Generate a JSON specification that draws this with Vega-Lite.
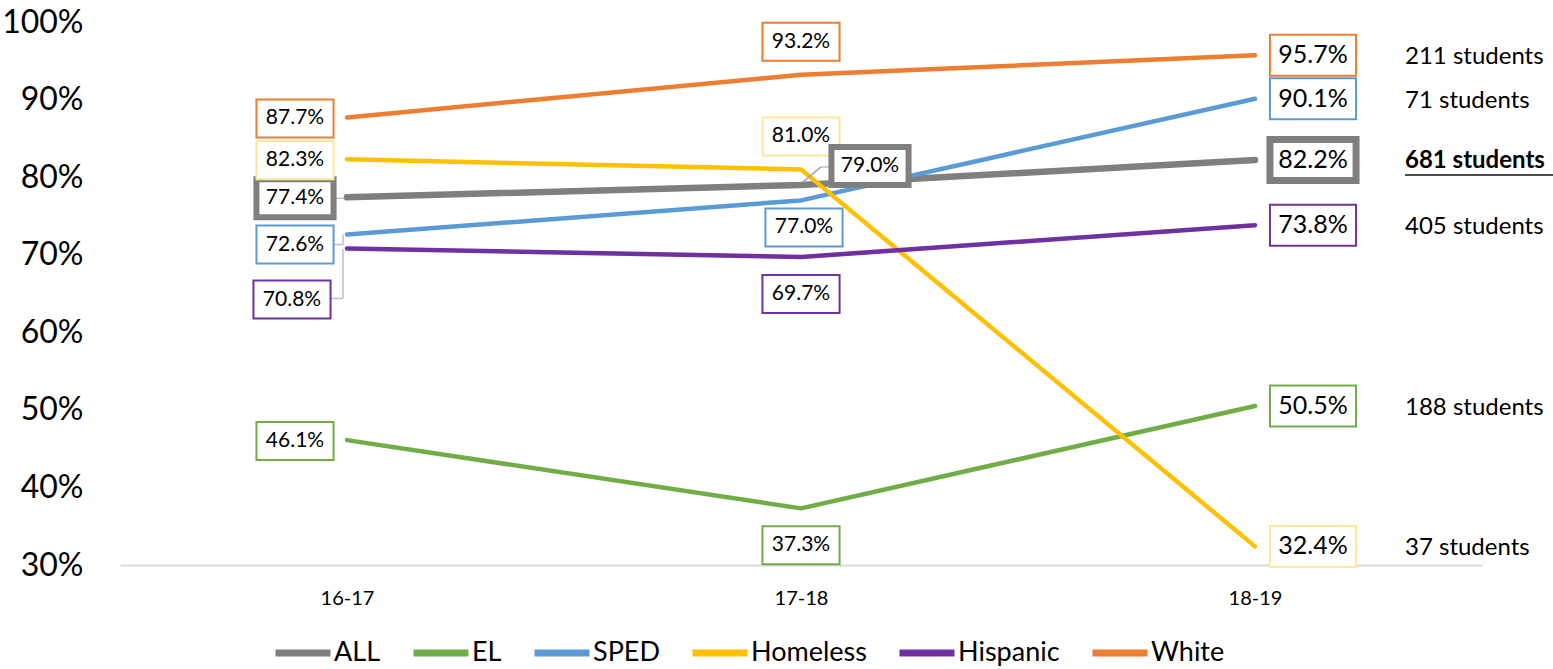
{
  "$schema": "https://vega.github.io/schema/vega-lite/v6.json",
  "width": 1362,
  "height": 543,
  "autosize": {"type": "none"},
  "padding": {"left": 120, "top": 22, "right": 71, "bottom": 104},
  "background": "white",
  "config": {"view": {"stroke": null}, "font": "Lato", "text": {"font": "Lato"}},
  "data": {"values": [
    {"year": "16-17", "series": "ALL", "value": 0.774},
    {"year": "16-17", "series": "EL", "value": 0.461},
    {"year": "16-17", "series": "SPED", "value": 0.726},
    {"year": "16-17", "series": "Homeless", "value": 0.823},
    {"year": "16-17", "series": "Hispanic", "value": 0.708},
    {"year": "16-17", "series": "White", "value": 0.877},
    {"year": "17-18", "series": "ALL", "value": 0.790},
    {"year": "17-18", "series": "EL", "value": 0.373},
    {"year": "17-18", "series": "SPED", "value": 0.770},
    {"year": "17-18", "series": "Homeless", "value": 0.810},
    {"year": "17-18", "series": "Hispanic", "value": 0.697},
    {"year": "17-18", "series": "White", "value": 0.932},
    {"year": "18-19", "series": "ALL", "value": 0.822, "students": "681 students"},
    {"year": "18-19", "series": "EL", "value": 0.505, "students": "188 students"},
    {"year": "18-19", "series": "SPED", "value": 0.901, "students": "71 students"},
    {"year": "18-19", "series": "Homeless", "value": 0.324, "students": "37 students"},
    {"year": "18-19", "series": "Hispanic", "value": 0.738, "students": "405 students"},
    {"year": "18-19", "series": "White", "value": 0.957, "students": "211 students"}
  ]},
  "encoding": {
    "x": {"field": "year", "type": "nominal", "sort": null,
      "scale": {"type": "point", "domain": ["16-17", "17-18", "18-19"], "padding": 0.5},
      "axis": {"title": null, "labelAngle": 0, "labelFontSize": 20, "labelColor": "black", "ticks": false, "domainColor": "#d9d9d9", "domainWidth": 2, "labelPadding": 23, "grid": false}},
    "y": {"field": "value", "type": "quantitative",
      "scale": {"domain": [0.3, 1.0], "nice": false, "zero": false},
      "axis": {"title": null, "values": [0.3, 0.4, 0.5, 0.6, 0.7, 0.8, 0.9, 1.0], "format": ".0%", "labelFontSize": 32, "labelColor": "black", "ticks": false, "domain": false, "grid": false, "labelPadding": 37}}
  },
  "layer": [
    {
      "mark": {"type": "line", "strokeCap": "round", "strokeJoin": "round"},
      "encoding": {
        "color": {"field": "series", "type": "nominal",
          "scale": {"domain": ["ALL", "EL", "SPED", "Homeless", "Hispanic", "White"], "range": ["#7f7f7f", "#70ad47", "#5b9bd5", "#ffc000", "#7030a0", "#ed7d31"]},
          "legend": {"orient": "none", "legendX": 152, "legendY": 600, "direction": "horizontal", "columns": 6, "title": null, "symbolType": "stroke", "symbolStrokeWidth": 7, "symbolSize": 3025, "labelFontSize": 27, "labelColor": "black", "labelOffset": 0, "columnPadding": 18}},
        "strokeWidth": {"condition": {"test": "datum.series === 'ALL'", "value": 6.5}, "value": 4.5}
      }
    },
    {"transform": [{"filter": "(datum.year === '16-17' && datum.series === 'Hispanic')"}],
     "mark": {"type": "tick", "orient": "vertical", "size": 49, "thickness": 1.5, "xOffset": -4, "yOffset": 25, "color": "#a6a6a6"}},
    {"transform": [{"filter": "(datum.year === '16-17' && datum.series === 'Hispanic')"}],
     "mark": {"type": "tick", "orient": "horizontal", "size": 12, "thickness": 1.5, "xOffset": -10, "yOffset": 50, "color": "#a6a6a6"}},
    {"transform": [{"filter": "(datum.year === '16-17' && datum.series === 'ALL')"}],
     "mark": {"type": "tick", "orient": "horizontal", "size": 12, "thickness": 1.5, "xOffset": -8, "yOffset": 1, "color": "#a6a6a6"}},
    {"transform": [{"filter": "(datum.year === '16-17' && datum.series === 'SPED')"}],
     "mark": {"type": "tick", "orient": "vertical", "size": 10, "thickness": 1.5, "xOffset": -4, "yOffset": 5, "color": "#a6a6a6"}},
    {"transform": [{"filter": "(datum.year === '16-17' && datum.series === 'SPED')"}],
     "mark": {"type": "tick", "orient": "horizontal", "size": 10, "thickness": 1.5, "xOffset": -9, "yOffset": 10, "color": "#a6a6a6"}},
    {"transform": [{"filter": "(datum.year === '17-18' && datum.series === 'ALL')"}],
     "mark": {"type": "rule", "strokeWidth": 1.5, "color": "#a6a6a6", "xOffset": 2, "yOffset": -3, "x2Offset": 20, "y2Offset": -18},
     "encoding": {"x2": {"field": "year"}, "y2": {"field": "value"}}},
    {"transform": [{"filter": "(datum.year === '17-18' && datum.series === 'ALL')"}],
     "mark": {"type": "tick", "orient": "horizontal", "size": 12, "thickness": 1.5, "xOffset": 26, "yOffset": -18, "color": "#a6a6a6"}},

    {"transform": [{"filter": "datum.year === '16-17' && indexof(['White','Homeless','ALL','EL'], datum.series) >= 0"}],
     "layer": [
       {"mark": {"type": "point", "shape": "M-2.03,-1H2.03V1H-2.03Z", "filled": true, "fill": "white", "opacity": 1, "size": 1444, "xOffset": -52, "yOffset": 1},
        "encoding": {"stroke": {"field": "series", "type": "nominal", "scale": {"domain": ["ALL", "EL", "SPED", "Homeless", "Hispanic", "White"], "range": ["#7f7f7f", "#70ad47", "#5b9bd5", "#ffe699", "#7030a0", "#ed7d31"]}, "legend": null},
          "strokeWidth": {"condition": {"test": "datum.series === 'ALL'", "value": 6}, "value": 2}}},
       {"mark": {"type": "text", "fontSize": 21, "color": "black", "xOffset": -52, "yOffset": 1},
        "encoding": {"text": {"field": "value", "type": "quantitative", "format": ".1%"}}}
     ]},
    {"transform": [{"filter": "datum.year === '16-17' && datum.series === 'SPED'"}],
     "layer": [
       {"mark": {"type": "point", "shape": "M-2.03,-1H2.03V1H-2.03Z", "filled": true, "fill": "white", "opacity": 1, "size": 1444, "xOffset": -52, "yOffset": 10},
        "encoding": {"stroke": {"field": "series", "type": "nominal", "scale": {"domain": ["ALL", "EL", "SPED", "Homeless", "Hispanic", "White"], "range": ["#7f7f7f", "#70ad47", "#5b9bd5", "#ffe699", "#7030a0", "#ed7d31"]}, "legend": null},
          "strokeWidth": {"value": 2}}},
       {"mark": {"type": "text", "fontSize": 21, "color": "black", "xOffset": -52, "yOffset": 10},
        "encoding": {"text": {"field": "value", "type": "quantitative", "format": ".1%"}}}
     ]},
    {"transform": [{"filter": "datum.year === '16-17' && datum.series === 'Hispanic'"}],
     "layer": [
       {"mark": {"type": "point", "shape": "M-2.03,-1H2.03V1H-2.03Z", "filled": true, "fill": "white", "opacity": 1, "size": 1444, "xOffset": -55, "yOffset": 51},
        "encoding": {"stroke": {"field": "series", "type": "nominal", "scale": {"domain": ["ALL", "EL", "SPED", "Homeless", "Hispanic", "White"], "range": ["#7f7f7f", "#70ad47", "#5b9bd5", "#ffe699", "#7030a0", "#ed7d31"]}, "legend": null},
          "strokeWidth": {"value": 2}}},
       {"mark": {"type": "text", "fontSize": 21, "color": "black", "xOffset": -55, "yOffset": 51},
        "encoding": {"text": {"field": "value", "type": "quantitative", "format": ".1%"}}}
     ]},
    {"transform": [{"filter": "datum.year === '17-18' && indexof(['White','Homeless'], datum.series) >= 0"}],
     "layer": [
       {"mark": {"type": "point", "shape": "M-2.03,-1H2.03V1H-2.03Z", "filled": true, "fill": "white", "opacity": 1, "size": 1444, "xOffset": 0, "yOffset": -33},
        "encoding": {"stroke": {"field": "series", "type": "nominal", "scale": {"domain": ["ALL", "EL", "SPED", "Homeless", "Hispanic", "White"], "range": ["#7f7f7f", "#70ad47", "#5b9bd5", "#ffe699", "#7030a0", "#ed7d31"]}, "legend": null},
          "strokeWidth": {"value": 2}}},
       {"mark": {"type": "text", "fontSize": 21, "color": "black", "xOffset": 0, "yOffset": -33},
        "encoding": {"text": {"field": "value", "type": "quantitative", "format": ".1%"}}}
     ]},
    {"transform": [{"filter": "datum.year === '17-18' && datum.series === 'SPED'"}],
     "layer": [
       {"mark": {"type": "point", "shape": "M-2.03,-1H2.03V1H-2.03Z", "filled": true, "fill": "white", "opacity": 1, "size": 1444, "xOffset": 3, "yOffset": 27},
        "encoding": {"stroke": {"field": "series", "type": "nominal", "scale": {"domain": ["ALL", "EL", "SPED", "Homeless", "Hispanic", "White"], "range": ["#7f7f7f", "#70ad47", "#5b9bd5", "#ffe699", "#7030a0", "#ed7d31"]}, "legend": null},
          "strokeWidth": {"value": 2}}},
       {"mark": {"type": "text", "fontSize": 21, "color": "black", "xOffset": 3, "yOffset": 27},
        "encoding": {"text": {"field": "value", "type": "quantitative", "format": ".1%"}}}
     ]},
    {"transform": [{"filter": "datum.year === '17-18' && indexof(['Hispanic','EL'], datum.series) >= 0"}],
     "layer": [
       {"mark": {"type": "point", "shape": "M-2.03,-1H2.03V1H-2.03Z", "filled": true, "fill": "white", "opacity": 1, "size": 1444, "xOffset": 0, "yOffset": 37},
        "encoding": {"stroke": {"field": "series", "type": "nominal", "scale": {"domain": ["ALL", "EL", "SPED", "Homeless", "Hispanic", "White"], "range": ["#7f7f7f", "#70ad47", "#5b9bd5", "#ffe699", "#7030a0", "#ed7d31"]}, "legend": null},
          "strokeWidth": {"value": 2}}},
       {"mark": {"type": "text", "fontSize": 21, "color": "black", "xOffset": 0, "yOffset": 37},
        "encoding": {"text": {"field": "value", "type": "quantitative", "format": ".1%"}}}
     ]},
    {"transform": [{"filter": "datum.year === '17-18' && datum.series === 'ALL'"}],
     "layer": [
       {"mark": {"type": "point", "shape": "M-2.03,-1H2.03V1H-2.03Z", "filled": true, "fill": "white", "opacity": 1, "size": 1444, "xOffset": 69, "yOffset": -19},
        "encoding": {"stroke": {"field": "series", "type": "nominal", "scale": {"domain": ["ALL", "EL", "SPED", "Homeless", "Hispanic", "White"], "range": ["#7f7f7f", "#70ad47", "#5b9bd5", "#ffe699", "#7030a0", "#ed7d31"]}, "legend": null},
          "strokeWidth": {"value": 6}}},
       {"mark": {"type": "text", "fontSize": 21, "color": "black", "xOffset": 69, "yOffset": -19},
        "encoding": {"text": {"field": "value", "type": "quantitative", "format": ".1%"}}}
     ]},
    {"transform": [{"filter": "datum.year === '18-19'"}],
     "layer": [
       {"mark": {"type": "point", "shape": "M-2.1,-1H2.1V1H-2.1Z", "filled": true, "fill": "white", "opacity": 1, "size": 1681, "xOffset": 58, "yOffset": 0},
        "encoding": {"stroke": {"field": "series", "type": "nominal", "scale": {"domain": ["ALL", "EL", "SPED", "Homeless", "Hispanic", "White"], "range": ["#7f7f7f", "#70ad47", "#5b9bd5", "#ffe699", "#7030a0", "#ed7d31"]}, "legend": null},
          "strokeWidth": {"condition": {"test": "datum.series === 'ALL'", "value": 7}, "value": 2}}},
       {"mark": {"type": "text", "fontSize": 25, "color": "black", "xOffset": 58, "yOffset": 0},
        "encoding": {"text": {"field": "value", "type": "quantitative", "format": ".1%"}}}
     ]},
    {"transform": [{"filter": "datum.year === '18-19' && datum.series !== 'ALL'"}],
     "mark": {"type": "text", "align": "left", "fontSize": 24, "color": "black", "xOffset": 150, "yOffset": 2},
     "encoding": {"text": {"field": "students", "type": "nominal"}}},
    {"transform": [{"filter": "datum.year === '18-19' && datum.series === 'ALL'"}],
     "mark": {"type": "text", "align": "left", "fontSize": 24, "fontWeight": "bold", "color": "black", "xOffset": 150, "yOffset": 1},
     "encoding": {"text": {"field": "students", "type": "nominal"}}},
    {"transform": [{"filter": "datum.year === '18-19' && datum.series === 'ALL'"}],
     "mark": {"type": "tick", "orient": "horizontal", "size": 150, "thickness": 2, "color": "black", "xOffset": 225, "yOffset": 15}}
  ]
}
